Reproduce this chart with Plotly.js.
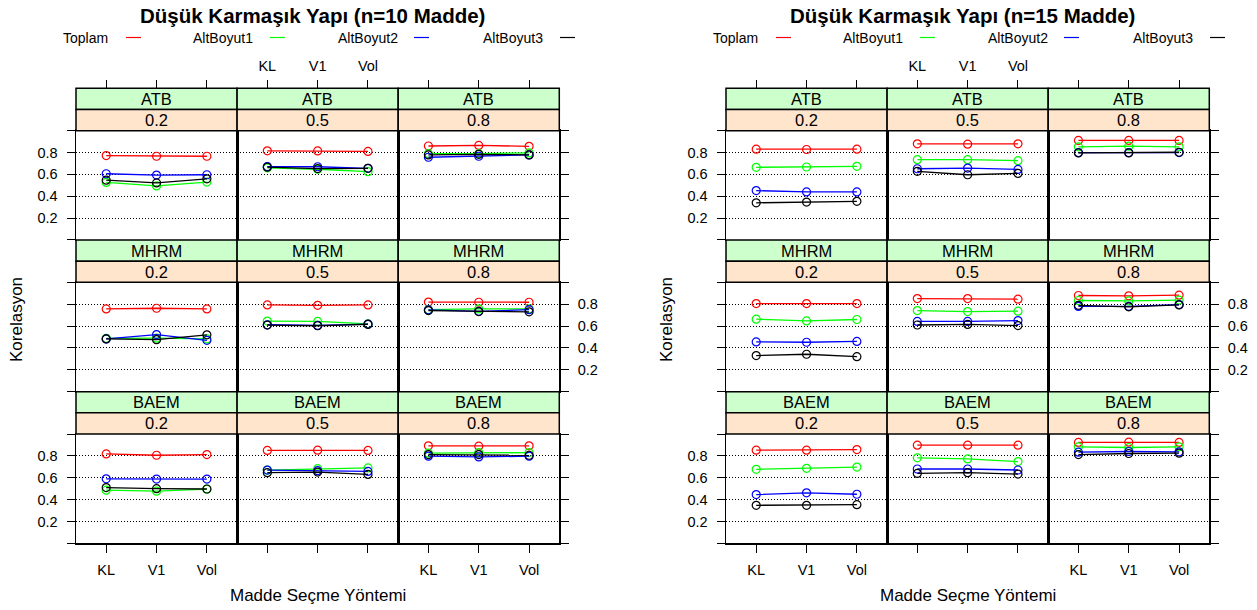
<!DOCTYPE html>
<html>
<head>
<meta charset="utf-8">
<script src="https://cdn.plot.ly/plotly-3.0.1.min.js"></script>
<style>
  html, body { margin: 0; padding: 0; background: #ffffff; }
  #chart { width: 1257px; height: 610px; }
</style>
</head>
<body>
<div id="chart"></div>
<script>
// Item-selection methods on the x axis, conditions in the strips
const methods = ['KL', 'V1', 'Vol'];
const estimators = ['ATB', 'MHRM', 'BAEM'];
const rhoLevels = ['0.2', '0.5', '0.8'];
const seriesNames = ['Toplam', 'AltBoyut1', 'AltBoyut2', 'AltBoyut3'];
const seriesColors = ['#ff0000', '#00ff00', '#0000ff', '#000000'];
const chartTitles = ['Düşük Karmaşık Yapı (n=10 Madde)', 'Düşük Karmaşık Yapı (n=15 Madde)'];
const yTickVals = [0, 0.2, 0.4, 0.6, 0.8, 1];
const yTickText = ['', '0.2', '0.4', '0.6', '0.8', ''];

// n = 10 items: one array per estimator and score, rows = rho 0.2 / 0.5 / 0.8, columns = KL / V1 / Vol
const n10_ATB_Toplam    = [[0.772, 0.766, 0.766], [0.816, 0.815, 0.810], [0.860, 0.865, 0.857]];
const n10_ATB_AltBoyut1 = [[0.527, 0.495, 0.530], [0.660, 0.647, 0.625], [0.790, 0.790, 0.797]];
const n10_ATB_AltBoyut2 = [[0.606, 0.594, 0.597], [0.672, 0.670, 0.656], [0.757, 0.766, 0.778]];
const n10_ATB_AltBoyut3 = [[0.547, 0.522, 0.560], [0.666, 0.653, 0.656], [0.778, 0.784, 0.778]];

const n10_MHRM_Toplam    = [[0.757, 0.763, 0.757], [0.794, 0.790, 0.794], [0.820, 0.818, 0.818]];
const n10_MHRM_AltBoyut1 = [[0.488, 0.490, 0.482], [0.646, 0.643, 0.620], [0.750, 0.757, 0.757]];
const n10_MHRM_AltBoyut2 = [[0.482, 0.522, 0.470], [0.612, 0.606, 0.618], [0.748, 0.735, 0.750]];
const n10_MHRM_AltBoyut3 = [[0.482, 0.476, 0.520], [0.609, 0.603, 0.615], [0.742, 0.733, 0.730]];

const n10_BAEM_Toplam    = [[0.818, 0.806, 0.812], [0.850, 0.852, 0.850], [0.892, 0.889, 0.892]];
const n10_BAEM_AltBoyut1 = [[0.486, 0.477, 0.495], [0.670, 0.683, 0.690], [0.825, 0.830, 0.830]];
const n10_BAEM_AltBoyut2 = [[0.590, 0.588, 0.588], [0.670, 0.665, 0.658], [0.797, 0.791, 0.797]];
const n10_BAEM_AltBoyut3 = [[0.510, 0.500, 0.497], [0.646, 0.652, 0.630], [0.812, 0.812, 0.806]];

// n = 15 items
const n15_ATB_Toplam    = [[0.831, 0.828, 0.831], [0.880, 0.877, 0.880], [0.911, 0.911, 0.911]];
const n15_ATB_AltBoyut1 = [[0.665, 0.668, 0.674], [0.735, 0.735, 0.726], [0.852, 0.858, 0.852]];
const n15_ATB_AltBoyut2 = [[0.452, 0.440, 0.440], [0.652, 0.658, 0.646], [0.800, 0.800, 0.800]];
const n15_ATB_AltBoyut3 = [[0.340, 0.347, 0.354], [0.628, 0.597, 0.609], [0.797, 0.797, 0.803]];

const n15_MHRM_Toplam    = [[0.806, 0.806, 0.806], [0.852, 0.852, 0.846], [0.880, 0.877, 0.883]];
const n15_MHRM_AltBoyut1 = [[0.663, 0.647, 0.660], [0.742, 0.733, 0.736], [0.834, 0.830, 0.837]];
const n15_MHRM_AltBoyut2 = [[0.455, 0.452, 0.460], [0.643, 0.643, 0.650], [0.780, 0.780, 0.797]];
const n15_MHRM_AltBoyut3 = [[0.330, 0.342, 0.320], [0.610, 0.615, 0.605], [0.790, 0.776, 0.794]];

const n15_BAEM_Toplam    = [[0.852, 0.852, 0.858], [0.898, 0.898, 0.898], [0.923, 0.926, 0.923]];
const n15_BAEM_AltBoyut1 = [[0.677, 0.686, 0.698], [0.782, 0.772, 0.748], [0.883, 0.877, 0.883]];
const n15_BAEM_AltBoyut2 = [[0.446, 0.462, 0.449], [0.680, 0.680, 0.671], [0.834, 0.840, 0.837]];
const n15_BAEM_AltBoyut3 = [[0.348, 0.348, 0.354], [0.640, 0.646, 0.634], [0.812, 0.822, 0.825]];

// chart -> estimator -> series
const chartData = [
  [
    [n10_ATB_Toplam, n10_ATB_AltBoyut1, n10_ATB_AltBoyut2, n10_ATB_AltBoyut3],
    [n10_MHRM_Toplam, n10_MHRM_AltBoyut1, n10_MHRM_AltBoyut2, n10_MHRM_AltBoyut3],
    [n10_BAEM_Toplam, n10_BAEM_AltBoyut1, n10_BAEM_AltBoyut2, n10_BAEM_AltBoyut3]
  ],
  [
    [n15_ATB_Toplam, n15_ATB_AltBoyut1, n15_ATB_AltBoyut2, n15_ATB_AltBoyut3],
    [n15_MHRM_Toplam, n15_MHRM_AltBoyut1, n15_MHRM_AltBoyut2, n15_MHRM_AltBoyut3],
    [n15_BAEM_Toplam, n15_BAEM_AltBoyut1, n15_BAEM_AltBoyut2, n15_BAEM_AltBoyut3]
  ]
];

// ---- page geometry (pixels) ----
const W = 1257, H = 610;
const fx = x => x / W;
const fy = y => 1 - y / H;
const FONT = 'Liberation Sans, Arial, sans-serif';

const chartLeft = [76, 726];
const panelW = 161.1;
const gridTop = 88.3;
const rowH = 151.67;
const stripH = 21.2;

const traces = [];
const layout = {
  width: W, height: H,
  margin: {l: 0, r: 0, t: 0, b: 0},
  paper_bgcolor: '#ffffff',
  plot_bgcolor: '#ffffff',
  showlegend: false,
  font: {family: FONT, size: 14, color: '#000000'},
  shapes: [],
  annotations: []
};

const frameW = 1.5;
const xPositions = [1, 2, 3];

for (let c = 0; c < 2; c++) {
  for (let r = 0; r < 3; r++) {
    const stripTop = gridTop + r * rowH;
    const panelTop = stripTop + 2 * stripH;
    const panelBot = stripTop + rowH;
    for (let k = 0; k < 3; k++) {
      const n = c * 9 + r * 3 + k + 1;
      const x0 = chartLeft[c] + k * panelW;
      const x1 = x0 + panelW;

      layout['xaxis' + n] = {
        domain: [fx(x0), fx(x1)],
        anchor: 'y' + n,
        range: [0.4, 3.6],
        tickmode: 'array',
        tickvals: xPositions,
        ticktext: methods,
        ticks: r === 2 ? 'outside' : '',
        ticklen: 8, tickwidth: 1, tickcolor: '#000000',
        ticklabelstandoff: 5,
        showticklabels: r === 2 && k !== 1,
        tickfont: {family: FONT, size: 14.5, color: '#000000'},
        showgrid: false, zeroline: false,
        showline: true, mirror: true, linecolor: '#000000', linewidth: frameW,
        fixedrange: true
      };
      layout['yaxis' + n] = {
        domain: [fy(panelBot), fy(panelTop)],
        anchor: 'x' + n,
        range: [0, 1],
        side: k === 2 ? 'right' : 'left',
        tickmode: 'array',
        tickvals: yTickVals,
        ticktext: yTickText,
        ticks: k === 1 ? '' : 'outside',
        ticklen: 8, tickwidth: 1, tickcolor: '#000000',
        ticklabelstandoff: 6,
        showticklabels: (k === 0 && r !== 1) || (k === 2 && r === 1),
        tickfont: {family: FONT, size: 14.5, color: '#000000'},
        showgrid: true, gridcolor: '#000000', gridwidth: 1, griddash: '1px,2px',
        zeroline: false,
        showline: true, mirror: true, linecolor: '#000000', linewidth: frameW,
        fixedrange: true
      };

      // four score series in this panel
      const block = chartData[c][r];
      for (let s = 0; s < seriesNames.length; s++) {
        traces.push({
          type: 'scatter',
          mode: 'lines+markers',
          name: seriesNames[s],
          x: xPositions,
          y: block[s][k],
          xaxis: 'x' + n,
          yaxis: 'y' + n,
          line: {color: seriesColors[s], width: 1.3},
          marker: {symbol: 'circle-open', size: 8, color: seriesColors[s], line: {width: 1.2, color: seriesColors[s]}},
          cliponaxis: false,
          hoverinfo: 'skip'
        });
      }

      // two-level strip: estimator (green) over rho (peach)
      layout.shapes.push({
        type: 'rect', xref: 'paper', yref: 'paper',
        x0: fx(x0), x1: fx(x1), y0: fy(stripTop + stripH), y1: fy(stripTop),
        fillcolor: '#ccffcc', line: {color: '#000000', width: frameW}
      });
      layout.shapes.push({
        type: 'rect', xref: 'paper', yref: 'paper',
        x0: fx(x0), x1: fx(x1), y0: fy(stripTop + 2 * stripH), y1: fy(stripTop + stripH),
        fillcolor: '#ffe5cc', line: {color: '#000000', width: frameW}
      });
      layout.annotations.push({
        xref: 'paper', yref: 'paper', x: fx((x0 + x1) / 2), y: fy(stripTop + stripH / 2),
        text: estimators[r], showarrow: false, xanchor: 'center', yanchor: 'middle',
        font: {family: FONT, size: 16.5, color: '#000000'}
      });
      layout.annotations.push({
        xref: 'paper', yref: 'paper', x: fx((x0 + x1) / 2), y: fy(stripTop + 1.5 * stripH),
        text: rhoLevels[k], showarrow: false, xanchor: 'center', yanchor: 'middle',
        font: {family: FONT, size: 16.5, color: '#000000'}
      });
    }
  }

  // top tick row above the first strip row
  for (let k = 0; k < 3; k++) {
    const base = c * 9 + k + 1;
    const n = 18 + c * 3 + k + 1;
    const x0 = chartLeft[c] + k * panelW;
    layout['xaxis' + n] = {
      domain: [fx(x0), fx(x0 + panelW)],
      overlaying: 'x' + base,
      anchor: 'free',
      position: fy(gridTop),
      side: 'top',
      range: [0.4, 3.6],
      tickmode: 'array',
      tickvals: xPositions,
      ticktext: methods,
      ticks: 'outside', ticklen: 8, tickwidth: 1, tickcolor: '#000000',
      ticklabelstandoff: 4,
      showticklabels: k === 1,
      tickfont: {family: FONT, size: 14.5, color: '#000000'},
      showgrid: false, zeroline: false, showline: false,
      fixedrange: true
    };
    traces.push({type: 'scatter', mode: 'markers', x: [], y: [], xaxis: 'x' + n, yaxis: 'y' + base, hoverinfo: 'skip', showlegend: false});
  }

  const offset = chartLeft[c] - chartLeft[0];
  const mid = chartLeft[c] + 1.5 * panelW;

  // chart title
  layout.annotations.push({
    xref: 'paper', yref: 'paper', x: fx(312 + offset), y: fy(15),
    text: '<b>' + chartTitles[c] + '</b>', showarrow: false, xanchor: 'center', yanchor: 'middle',
    font: {family: FONT, size: 20.5, color: '#000000'}
  });

  // key: label followed by a short line sample
  const keyTextX = [61, 191, 336, 481];
  const keyLineX = [126, 270, 414, 560];
  for (let s = 0; s < seriesNames.length; s++) {
    layout.annotations.push({
      xref: 'paper', yref: 'paper', x: fx(keyTextX[s] + offset), y: fy(37.5),
      text: seriesNames[s], showarrow: false, xanchor: 'left', yanchor: 'middle',
      font: {family: FONT, size: 14, color: '#000000'}
    });
    layout.shapes.push({
      type: 'line', xref: 'paper', yref: 'paper',
      x0: fx(keyLineX[s] + offset), x1: fx(keyLineX[s] + 15 + offset),
      y0: fy(37.5), y1: fy(37.5),
      line: {color: seriesColors[s], width: 1.2}
    });
  }

  // axis titles
  layout.annotations.push({
    xref: 'paper', yref: 'paper', x: fx(mid), y: fy(595),
    text: 'Madde Seçme Yöntemi', showarrow: false, xanchor: 'center', yanchor: 'middle',
    font: {family: FONT, size: 17, color: '#000000'}
  });
  layout.annotations.push({
    xref: 'paper', yref: 'paper', x: fx(16 + offset), y: fy(320),
    text: 'Korelasyon', showarrow: false, textangle: -90, xanchor: 'center', yanchor: 'middle',
    font: {family: FONT, size: 17, color: '#000000'}
  });
}

Plotly.newPlot('chart', traces, layout, {staticPlot: true, displayModeBar: false});
</script>
</body>
</html>
